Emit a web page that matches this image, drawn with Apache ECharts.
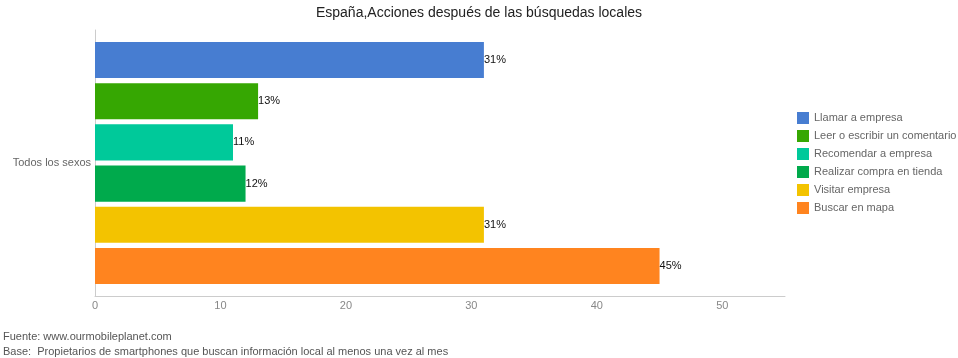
<!DOCTYPE html>
<html>
<head>
<meta charset="utf-8">
<script src="https://cdn.jsdelivr.net/npm/echarts@6/dist/echarts.min.js"></script>
<style>html,body{margin:0;padding:0;background:#fff}#c{width:958px;height:358px}</style>
</head>
<body>
<div id="c"></div>
<script>
var categories = ['Todos los sexos'];
var seriesNames = ['Llamar a empresa','Leer o escribir un comentario','Recomendar a empresa','Realizar compra en tienda','Visitar empresa','Buscar en mapa'];
var seriesValues = [31, 13, 11, 12, 31, 45];
var seriesColors = ['#477DD1','#36A702','#00C99A','#00AA4C','#F3C300','#FF841F'];
var xTicks = [0, 10, 20, 30, 40, 50];

var chart = echarts.init(document.getElementById('c'));
var series = seriesNames.map(function(n, i){
  return {
    name: n, type: 'bar',
    data: [seriesValues[i]],
    itemStyle: {color: seriesColors[i]},
    barGap: '14%', barCategoryGap: '9%',
    label: {show: true, position: 'right', distance: 0, formatter: '{c}%', color: '#111', fontSize: 11, fontFamily: 'Liberation Sans, Arial'},
    animation: false
  };
});
chart.setOption({
  animation: false,
  title: {text: 'España,Acciones después de las búsquedas locales', left: 'center', top: 1,
    textStyle: {fontSize: 14, fontWeight: 'normal', color: '#222', fontFamily: 'Liberation Sans, Arial'}},
  legend: {orient: 'vertical', left: 792, top: 107, itemWidth: 12, itemHeight: 12, itemGap: 6,
    icon: 'rect', textStyle: {fontSize: 11, color: '#666', fontFamily: 'Liberation Sans, Arial'},
    data: seriesNames},
  grid: {left: 95, right: 173, top: 30, bottom: 62, containLabel: false},
  xAxis: {type: 'value', min: 0, max: 55, interval: 10,
    axisLine: {show: true, lineStyle: {color: '#ccc'}},
    axisTick: {show: false},
    splitLine: {show: false},
    axisLabel: {color: '#888', fontSize: 11, margin: 4, showMaxLabel: false, fontFamily: 'Liberation Sans, Arial',
      formatter: function(v){ return xTicks.indexOf(v) >= 0 ? String(v) : ''; }}},
  yAxis: {type: 'category', data: categories, inverse: true,
    axisLine: {show: true, lineStyle: {color: '#ccc'}},
    axisTick: {show: false},
    axisLabel: {color: '#666', fontSize: 11, margin: 4, fontFamily: 'Liberation Sans, Arial'}},
  graphic: [
    {type: 'text', left: 3, top: 331, style: {text: 'Fuente: www.ourmobileplanet.com', fill: '#555', font: '11px Liberation Sans, Arial'}},
    {type: 'text', left: 3, top: 346, style: {text: 'Base:  Propietarios de smartphones que buscan información local al menos una vez al mes', fill: '#555', font: '11px Liberation Sans, Arial'}}
  ],
  series: series
});
</script>
</body>
</html>
